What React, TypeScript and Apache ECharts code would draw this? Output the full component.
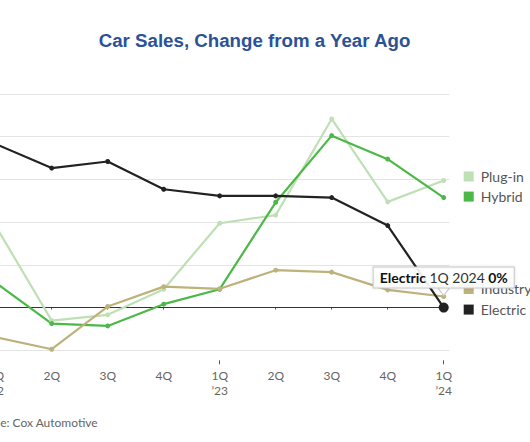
import React, { useEffect, useRef } from 'react';
import * as echarts from 'echarts';

const quarterLabels = ['1Q\n\u201922', '2Q', '3Q', '4Q', '1Q\n\u201923', '2Q', '3Q', '4Q', '1Q\n\u201924'];
const quarterNames = ['1Q 2022', '2Q 2022', '3Q 2022', '4Q 2022', '1Q 2023', '2Q 2023', '3Q 2023', '4Q 2023', '1Q 2024'];
const seriesNames = ['Plug-in', 'Hybrid', 'Industry', 'Electric'];
const pluginValues = [38.2, -6.1, -3.4, 8.6, 39.5, 43.3, 88.3, 49.5, 59.5];
const hybridValues = [11.6, -7.5, -8.6, 1.6, 8.6, 49.3, 80.5, 69.5, 51.5];
const industryValues = [-13.9, -19.5, 0.5, 9.8, 8.8, 17.5, 16.6, 8.3, 5.2];
const electricValues = [76.6, 65.3, 68.4, 55.4, 52.3, 52.3, 51.5, 38.4, 0];
const yMin = -20;
const yMax = 100;
const yStep = 20;
const titleText = 'Car Sales, Change from a Year Ago';
const sourceText = 'Source: Cox Automotive';

const colors = ['#bfe0b5', '#4cb848', '#bdb27c', '#222222'];
const labelNudges = [-4, -1, -7.5, 2];
const FONT = 'Lato, "Open Sans", sans-serif';

export default function App() {
  const ref = useRef<HTMLDivElement>(null);
  useEffect(() => {
    const chart = echarts.init(ref.current!, null, { renderer: 'svg' });
    const allValues = [pluginValues, hybridValues, industryValues, electricValues];
    const last = quarterLabels.length - 1;
    const series: any[] = allValues.map((vals, si) => ({
      type: 'line',
      name: seriesNames[si],
      z: si === 3 ? 4 : 2,
      data: vals.map((v, i) => [i, v]),
      symbol: 'circle',
      symbolSize: si === 3 ? (_v: any, p: any) => (p.dataIndex === last ? 10 : 5) : 5,
      showSymbol: true,
      itemStyle: { color: colors[si] },
      lineStyle: { color: colors[si], width: 2.2 },
      endLabel: {
        show: true,
        distance: 20,
        offset: [0, labelNudges[si]],
        formatter: () => `{sq|}{t|${seriesNames[si]}}`,
        rich: {
          sq: { width: 10, height: 10, backgroundColor: colors[si] },
          t: { fontSize: 14, fontFamily: FONT, color: '#555', padding: [0, 0, 0, 7] },
        },
      },
      emphasis: { disabled: true },
    }));
    // zero line
    series[2].markLine = {
      silent: true,
      z: 1,
      symbol: ['none', 'none'],
      label: { show: false },
      lineStyle: { color: '#333', width: 1, type: 'solid' },
      data: [[{ coord: [0, 0] }, { coord: [last, 0] }]],
    };
    const ev = electricValues[last];
    series[3].markPoint = {
      silent: true,
      z: 10,
      data: [
        {
          coord: [last, ev],
          symbol: 'triangle',
          symbolRotate: 180,
          symbolSize: [12, 8],
          symbolOffset: [0, -16],
          itemStyle: { color: '#fff', borderColor: '#c8c8c8', borderWidth: 1 },
          label: { show: false },
        },
        {
          coord: [last, ev],
          symbol: 'rect',
          symbolSize: 1,
          itemStyle: { color: 'rgba(0,0,0,0)' },
          label: {
            show: true,
            position: 'inside',
            offset: [0, -30],
            formatter: () => `{b|${seriesNames[3]}} {r|${quarterNames[last]}} {b|${Math.round(ev)}%}`,
            backgroundColor: 'rgba(255,255,255,0.9)',
            borderColor: '#c8c8c8',
            borderWidth: 1,
            padding: [3, 6, 3, 6],
            shadowBlur: 3,
            shadowColor: 'rgba(0,0,0,0.12)',
            rich: {
              b: { fontSize: 14, fontWeight: 'bold', fontFamily: FONT, color: '#111' },
              r: { fontSize: 14, fontFamily: FONT, color: '#333' },
            },
          },
        },
      ],
    };

    const option: any = {
      animation: false,
      grid: { left: 55.7, right: 80.7, top: 94, bottom: 91.7, outerBoundsMode: 'none' },
      xAxis: [
        {
          type: 'value',
          min: 0,
          max: 8.1,
          offset: 10,
          axisLine: { show: false },
          splitLine: { show: false },
          axisTick: {
            show: true,
            customValues: [1, 2, 3, 5, 6, 7],
            length: 2,
            lineStyle: { color: '#555', width: 1 },
          },
          axisLabel: {
            customValues: quarterLabels.map((_, i) => i),
            formatter: (v: number) => quarterLabels[Math.round(v)] ?? '',
            color: '#666',
            fontSize: 12,
            lineHeight: 15,
            fontFamily: FONT,
            margin: 8,
          },
        },
        {
          type: 'value',
          min: 0,
          max: 8.1,
          offset: 10,
          position: 'bottom',
          axisLine: { show: false },
          splitLine: { show: false },
          axisTick: {
            show: true,
            customValues: [0, 4, 8],
            length: 4,
            lineStyle: { color: '#555', width: 1 },
          },
          axisLabel: { show: false },
        },
      ],
      yAxis: {
        type: 'value',
        min: yMin,
        max: yMax,
        interval: yStep,
        axisLine: { show: false },
        axisTick: { show: false },
        axisLabel: { show: false, formatter: '{value}%' },
        splitLine: { lineStyle: { color: '#e4e4e4', width: 1 } },
      },
      series,
      graphic: [
        {
          type: 'text',
          x: 314.5,
          y: 40.5,
          style: {
            text: titleText,
            fill: '#2b5297',
            font: 'bold 18.7px "Liberation Sans", Arial, sans-serif',
            textAlign: 'center',
            textVerticalAlign: 'middle',
          },
        },
        {
          type: 'text',
          x: 157.7,
          y: 422,
          style: {
            text: sourceText,
            fill: '#666',
            font: `12px ${FONT}`,
            textAlign: 'right',
            textVerticalAlign: 'middle',
          },
        },
      ],
    };
    chart.setOption(option);
    return () => chart.dispose();
  }, []);
  return <div ref={ref} style={{ position: 'absolute', left: -60, top: 0, width: 590, height: 442 }} />;
}
